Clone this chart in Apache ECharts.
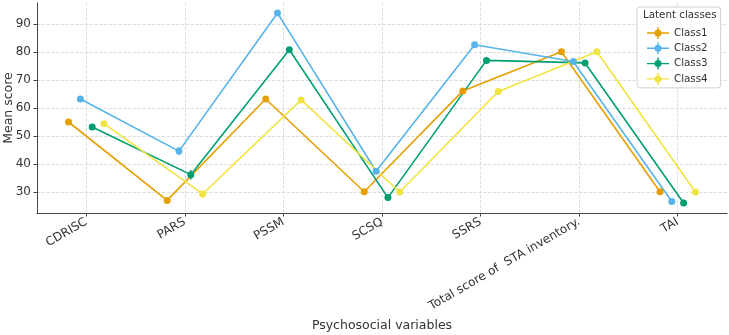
<!DOCTYPE html>
<html>
<head>
<meta charset="utf-8">
<script src="https://cdn.jsdelivr.net/npm/echarts@6/dist/echarts.min.js"></script>
<style>
  html, body { margin: 0; padding: 0; background: #fff; }
  #chart { width: 729px; height: 335px; }
</style>
</head>
<body>
<div id="chart"></div>
<script>
// categories on the x axis
var categories = ['CDRISC', 'PARS', 'PSSM', 'SCSQ', 'SSRS', 'Total score of  STA inventory.', 'TAI'];
var classNames = ['Class1', 'Class2', 'Class3', 'Class4'];
var yTicks = [30, 40, 50, 60, 70, 80, 90];

// mean scores per class
var class1 = [55.0, 27.0, 63.2, 30.1, 66.1, 80.1, 30.1];
var class2 = [63.2, 44.6, 93.9, 37.4, 82.6, 76.6, 26.6];
var class3 = [53.2, 36.2, 80.8, 28.0, 77.0, 76.1, 26.1];
var class4 = [54.4, 29.3, 62.9, 30.0, 65.9, 80.1, 30.0];

// half width of the error bars
var err1 = [0.6, 0.5, 0.6, 0.5, 0.6, 0.6, 0.5];
var err2 = [0.6, 1.5, 0.6, 0.6, 0.6, 0.6, 0.6];
var err3 = [0.6, 1.7, 0.6, 0.6, 0.6, 0.6, 0.6];
var err4 = [0.6, 0.5, 0.6, 0.5, 0.6, 0.6, 0.5];

// dodge of each class around the category position
var offsets = [-0.18, -0.06, 0.06, 0.18];
var colors = ['#E69F00', '#56B4E9', '#009E73', '#F0E442'];

var means = [class1, class2, class3, class4];
var errs = [err1, err2, err3, err4];

// legend icon: line + errorbar + dot
var legendIcon = 'path://M0,5.3L22,5.3L22,6.7L0,6.7Z' +
    'M10.3,0L11.7,0L11.7,12L10.3,12Z' +
    'M7.5,6A3.5,3.5 0 1 1 14.5,6A3.5,3.5 0 1 1 7.5,6Z';

var chart = echarts.init(document.getElementById('chart'), null, { renderer: 'canvas' });

var series = [];
classNames.forEach(function (name, k) {
    var pts = means[k].map(function (v, i) { return [i + offsets[k], v]; });
    series.push({
        name: name,
        type: 'line',
        z: 4,
        data: pts,
        symbol: 'circle',
        symbolSize: 7,
        color: colors[k],
        lineStyle: { width: 1.6, color: colors[k] },
        itemStyle: { color: colors[k] }
    });
});
// error bars
classNames.forEach(function (name, k) {
    var bars = means[k].map(function (v, i) { return [i + offsets[k], v - errs[k][i], v + errs[k][i]]; });
    series.push({
        name: name + ' err',
        type: 'custom',
        silent: true,
        z: 3,
        data: bars,
        renderItem: function (params, api) {
            var top = api.coord([api.value(0), api.value(2)]);
            var bot = api.coord([api.value(0), api.value(1)]);
            return {
                type: 'line',
                shape: { x1: top[0], y1: top[1], x2: bot[0], y2: bot[1] },
                style: { stroke: colors[k], lineWidth: 1.5 }
            };
        }
    });
});

var option = {
    animation: false,
    textStyle: { fontFamily: 'DejaVu Sans' },
    grid: { left: 37, right: 2, top: 3, bottom: 122, containLabel: false, outerBoundsMode: 'none' },
    legend: {
        data: classNames,
        orient: 'vertical',
        left: 637,
        top: 7,
        padding: [20, 13, 3, 10],
        icon: legendIcon,
        itemWidth: 22,
        itemHeight: 12,
        itemGap: 3.3,
        itemTextGap: 8,
        backgroundColor: 'rgba(255,255,255,0.85)',
        borderColor: '#d0d0d0',
        borderWidth: 1,
        borderRadius: 3,
        textStyle: { fontSize: 10.3, color: '#333', fontFamily: 'DejaVu Sans' }
    },
    graphic: [{
        type: 'text',
        left: 643,
        top: 10,
        z: 100,
        style: { text: 'Latent classes', fontSize: 10.3, fill: '#333', fontFamily: 'DejaVu Sans' }
    }],
    xAxis: {
        type: 'value',
        min: -0.5,
        max: 6.5,
        name: 'Psychosocial variables',
        nameLocation: 'middle',
        nameGap: 106,
        nameMoveOverlap: false,
        nameTextStyle: { fontSize: 12.5, color: '#333' },
        axisLine: { onZero: false, lineStyle: { color: '#444', width: 1 } },
        axisTick: { show: true, length: 3.5, lineStyle: { color: '#444' }, customValues: [0, 1, 2, 3, 4, 5, 6] },
        axisLabel: {
            customValues: [0, 1, 2, 3, 4, 5, 6],
            rotate: 30,
            margin: 8,
            fontSize: 12,
            color: '#333',
            formatter: function (v) { return categories[Math.round(v)] || ''; }
        },
        splitLine: { show: true, lineStyle: { type: 'dashed', color: '#d6d6d6', width: 0.8 } }
    },
    yAxis: {
        type: 'value',
        min: 22.5,
        max: 97.5,
        name: 'Mean score',
        nameLocation: 'middle',
        nameGap: 22,
        nameMoveOverlap: false,
        nameTextStyle: { fontSize: 12.5, color: '#333' },
        axisLine: { show: true, onZero: false, lineStyle: { color: '#444', width: 1 } },
        axisTick: { show: true, length: 3.5, lineStyle: { color: '#444' }, customValues: yTicks },
        axisLabel: { customValues: yTicks, fontSize: 12, color: '#333', margin: 6 },
        splitLine: { show: true, lineStyle: { type: 'dashed', color: '#d6d6d6', width: 0.8 } }
    },
    series: series
};

chart.setOption(option);
</script>
</body>
</html>
